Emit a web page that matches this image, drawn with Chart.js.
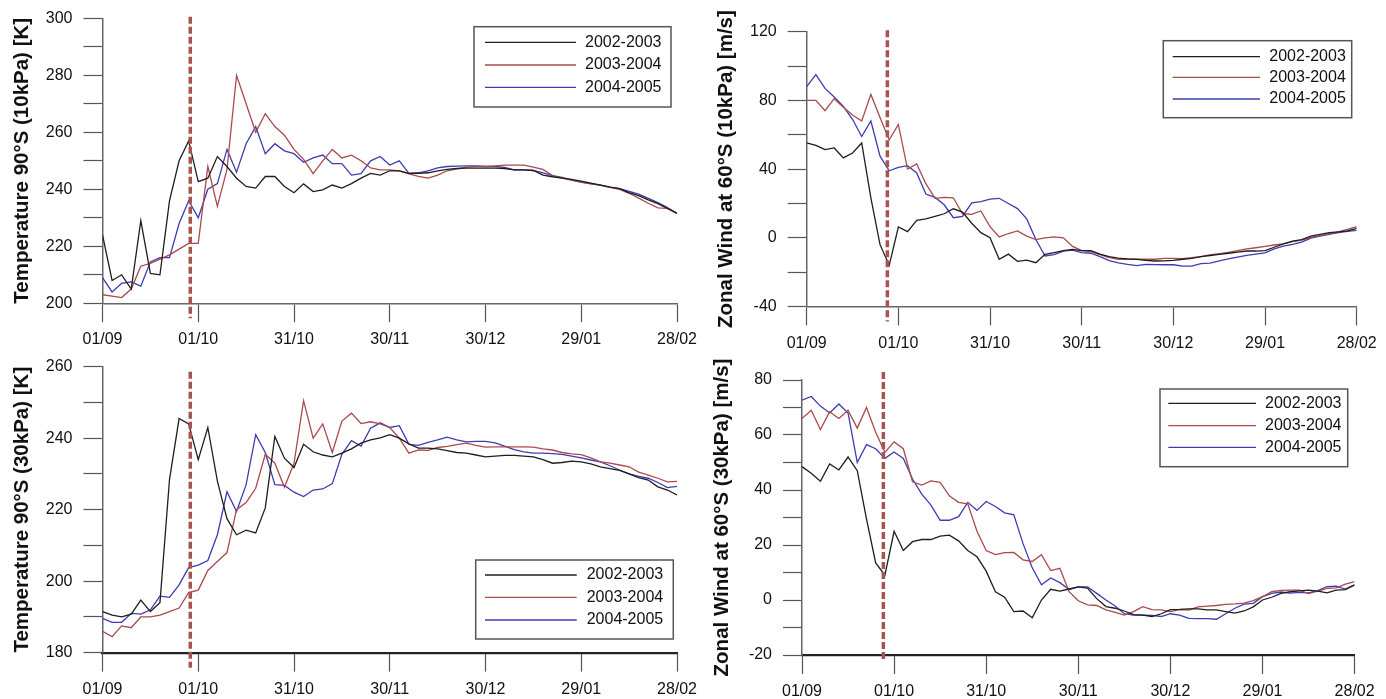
<!DOCTYPE html>
<html>
<head>
<meta charset="utf-8">
<title>Polar temperature and zonal wind 2002-2005</title>
<script src="https://cdn.jsdelivr.net/npm/chart.js@4.4.1/dist/chart.umd.min.js"></script>
<style>
    html, body { margin: 0; padding: 0; background: #fff; }
    #wrap { position: relative; width: 1386px; height: 699px; overflow: hidden; }
    canvas { position: absolute; }
</style>
</head>
<body>
<div id="wrap">
    <canvas id="tl" width="720" height="350" style="left:0;top:0"></canvas>
    <canvas id="tr" width="693" height="350" style="left:693px;top:0"></canvas>
    <canvas id="bl" width="720" height="349" style="left:0;top:350px"></canvas>
    <canvas id="br" width="693" height="349" style="left:693px;top:350px"></canvas>
</div>
<script>
// day offsets from 01/09
const days = [0,3,6,9,12,15,18,21,24,27,30,33,36,39,42,45,48,51,54,57,60,63,66,69,72,75,78,81,84,87,90,
    93,96,99,102,105,108,111,114,117,120,123,126,129,132,135,138,141,144,147,150,153,156,159,162,165,168,171,174,177,180];
const tickLabels = ['01/09','01/10','31/10','30/11','30/12','29/01','28/02'];
const seriesNames = ['2002-2003','2003-2004','2004-2005'];

// Temperature 90S, 10 kPa
const temp10_0203 = [224,208,210,205,229,210.5,210,236,250,257,242.7,243.9,251.5,248,243.9,241,240.4,244.5,244.5,241,238.8,241.9,239.2,239.8,241.5,240.4,242,243.9,245.6,245,246.5,
    246.5,245.6,245.6,245.8,246.5,247,247.3,247.4,247.4,247.4,247.4,247.3,246.8,246.8,246.6,245,244.4,243.9,243.5,242.9,242.2,241.5,240.8,240.2,238.8,237.8,236.3,235,233.3,231.5];
const temp10_0304 = [203,202.5,202,205,213,214,215.5,217,219,221,221,248,234,247,280,270,260,266.5,262,259,254,250.5,245.5,250,254,251,252,250,247.5,246.8,246.8,
    246.5,245.4,244.5,243.9,245,246.5,247.2,247.8,248,248,248.2,248.5,248.5,248.5,247.8,247,244.8,243.9,243.2,242.4,242,241.5,240.7,240,238.6,236.9,235.1,233.5,233.3,231.6];
const temp10_0405 = [209,204,207,207.5,206,214.5,216,216,228,236,230,240,242,254,246,256,262,252.5,256,253.5,252.5,249.5,251,252,249,249,245,245.5,250,251.5,248.5,
    250,245.6,245.8,246.5,247.5,248,248.1,248.2,248.2,248,248,247.7,246.8,246.8,246.6,245.8,244.8,244.2,243.2,242.5,241.9,241.5,240.8,240.2,239.3,238.3,236.8,235.3,233.6,231.6];

// Zonal wind 60S, 10 kPa
const wind10_0203 = [55.2,53.8,51.3,52.3,46.5,49.4,55.2,23.3,-4,-16,6.3,3.6,10.2,11,12.5,14,16.9,15,8.5,3,0,-12.5,-9.5,-13.7,-13,-14.5,-9.6,-8.6,-7.5,-6.8,-7.5,
    -7.5,-9.5,-11,-11.8,-12.3,-12.6,-13.2,-13.5,-13.4,-13.2,-12.5,-12,-11,-10.3,-9.6,-9,-8.3,-7.7,-7.7,-7.5,-5.5,-3.5,-2,-1,1,2,3,3.5,4,5.5];
const wind10_0304 = [80,80,74,81,76,71.5,68,83.5,70,57,66,40,43,31.5,23,23.5,23.3,14,13.6,15.6,6.5,0.5,2.5,4,1,-1,0,0.5,0,-5,-7.5,
    -8,-9.8,-11.5,-12.5,-12.5,-12.5,-12.5,-12.5,-12,-12,-12.2,-11.5,-11,-10,-9.2,-8.5,-7.5,-6.5,-5.8,-5,-4.2,-3.5,-2.2,-1.3,0.3,1.3,2.4,3.5,4.9,6.5];
const wind10_0405 = [88,95,87,82,76.5,69,59,68,47.5,39,41,42,37.8,25.5,23.5,19.2,11.7,12.5,20.4,21,22.5,23,20,17,11,-1,-10.6,-9.8,-7.7,-7.2,-8.6,
    -9,-11,-13.3,-14.6,-15.5,-16.2,-15.5,-15.6,-15.7,-15.7,-16.5,-16.5,-15,-14.7,-13.5,-12.3,-11.2,-10.2,-9.5,-8.8,-6.5,-4.8,-3.8,-2.5,-0.2,1,2,3,3.8,4.3];

// Temperature 90S, 30 kPa
const temp30_0203 = [191.5,190.5,190,190.8,194.7,191.5,194,228.5,245.5,244,234,243,228,217.5,213,214.3,213.5,220.5,240.5,234.4,231.8,238.3,236.2,235.3,234.8,235.8,237,238.6,239.5,240.1,241,
    240,238.4,237.2,237.2,237,236.5,236,235.8,235.3,234.8,235,235.2,235.2,235,234.8,234,233,233.2,233.6,233.4,232.8,232,231.5,231,230,229,228.3,226.4,225.5,224.1];
const temp30_0304 = [186,184.5,187.5,187,190,190,190.5,191.5,192.5,196.8,197.5,203,205.5,208,220,222,226,235.5,233,226.3,233,250.5,240,244,236,244.8,247,244.1,244.6,244,243,
    240,235.8,236.7,236.6,237.4,237.7,238.2,238.6,238,237.5,237.6,237.6,237.6,237.6,237.5,237,236.7,236,235.6,235.4,234.5,233.4,233,232.5,232,230.5,229.7,228.8,227.8,227.9];
const temp30_0405 = [189.6,188.5,188.5,191,190.8,192,195.8,195.5,199,203.8,204.5,205.8,213,225,219.5,227,241,236,227,226.8,224.9,223.7,225.5,225.8,227.3,235.5,239.3,237.8,242.8,244.3,243,
    243.5,238.3,238,238.8,239.5,240.3,239.5,239,239.1,239.1,238.7,237.8,236.8,236.2,235.8,235.8,235.7,235.5,235,234.5,233.9,233.4,232.3,231.1,230,229.3,228.8,227.6,226.2,226.5];

// Zonal wind 60S, 30 kPa
const wind30_0203 = [48.5,46.1,43.2,49.5,47.3,52,47,29.5,13.5,9,25,18,21.2,22,22,23.2,23.6,21.5,18,15.7,10.5,3,1,-4.2,-4,-6.5,0,3.9,3.2,4,4.8,
    4.3,0.5,-2.4,-3,-4,-5.3,-5.5,-6,-5,-3.5,-3.4,-3.2,-3.2,-3.6,-3.6,-4.2,-4.8,-4,-2.5,0,1,2.4,3,3.3,3.6,3.2,2.6,3.6,3.8,5.5];
const wind30_0304 = [66,69,62,68.5,66,69,62.5,70,61,53.7,57.5,55,43,41.8,43.3,42.8,37.9,35.5,35,25,18,16.5,17.2,17.3,14.6,14,16.5,10.7,11.5,3,-0.3,
    -1.8,-2,-3.6,-4.5,-5.5,-4.2,-2.4,-3.5,-3.6,-4.2,-3.5,-3.7,-2.5,-2.2,-2,-1.6,-1.4,-1.1,-0.2,1.2,3,3.5,3.6,3.6,2.3,3.2,4.2,4.4,5.8,6.7];
const wind30_0405 = [72.7,74,70.5,68,71.3,68,50,56.5,55,51.5,53.8,51.5,44,38.5,34.5,29,29,30.3,35.5,32.6,35.8,34,31.7,31,20.5,11.7,5.5,8,6.3,3.8,4.8,
    4.8,2.4,0,-2.2,-5,-5.5,-5.5,-5.6,-6,-5,-5.5,-6.7,-6.8,-6.8,-7,-5,-3,-1.5,-1.2,1.2,2.4,2.9,2.5,2.8,2.6,3.4,4.9,5,4,5.5];

Chart.defaults.font.family = "'Liberation Sans', Arial, sans-serif";
Chart.defaults.font.size = 16;
Chart.defaults.color = '#111';

const lineColors = ['#1e1e1e', '#aa4a4a', '#3c3cb4'];

// panel layout (canvas pixels); left canvases are a bit wider so the last x label is not cut
const panels = [
    { id: 'tl', title: 'Temperature 90°S (10kPa) [K]', series: [temp10_0203, temp10_0304, temp10_0405],
      yMin: 200, yMax: 300, yStep: 10, yLabelEvery: 20,
      area: { left: 102.5, top: 18.3, right: 677, bottom: 303.3 }, titleX: 22.5,
      eventDay: 27.5, dashTop: -1.5, dashBottom: 15, darkBase: false,
      legend: { x: 474, y: 26.7, w: 197, h: 80.3, x0: 485, x1: 576, tx: 585, rows: [42.3, 65, 87.3] } },
    { id: 'tr', title: 'Zonal Wind at 60°S (10kPa) [m/s]', series: [wind10_0203, wind10_0304, wind10_0405],
      yMin: -40, yMax: 120, yStep: 20, yLabelEvery: 40,
      area: { left: 113.7, top: 31.7, right: 663.7, bottom: 306.5 }, titleX: 33.7,
      eventDay: 26.4, dashTop: -1.5, dashBottom: 15, darkBase: false,
      legend: { x: 470.3, y: 40.7, w: 188.4, h: 77, x0: 479.7, x1: 567, tx: 576.3, rows: [56.7, 77.3, 99] } },
    { id: 'bl', title: 'Temperature 90°S (30kPa) [K]', series: [temp30_0203, temp30_0304, temp30_0405],
      yMin: 180, yMax: 260, yStep: 10, yLabelEvery: 20,
      area: { left: 102.5, top: 16.7, right: 677, bottom: 302.7 }, titleX: 22.5,
      eventDay: 27.5, dashTop: 5, dashBottom: 15, darkBase: true,
      legend: { x: 475.7, y: 210, w: 197.6, h: 79, x0: 485, x1: 576.7, tx: 586.7, rows: [225, 247.3, 270] } },
    { id: 'br', title: 'Zonal Wind at 60°S (30kPa) [m/s]', series: [wind30_0203, wind30_0304, wind30_0405],
      yMin: -20, yMax: 80, yStep: 10, yLabelEvery: 20,
      area: { left: 109, top: 30, right: 661.6, bottom: 305 }, titleX: 29,
      eventDay: 26.5, dashTop: -8, dashBottom: 6, darkBase: true,
      legend: { x: 467, y: 39, w: 187.7, h: 77.7, x0: 475.3, x1: 563, tx: 572, rows: [53.3, 75.7, 97.3] } }
];

// dashed event marker, rotated axis title and the boxed legend inside the plot
const panelDecor = {
    id: 'panelDecor',
    afterDatasetsDraw(chart, args, o) {
        const { ctx, chartArea } = chart;
        const x = chart.scales.x.getPixelForValue(o.eventDay);
        ctx.save();
        ctx.strokeStyle = '#a6544e';
        ctx.lineWidth = 3.5;
        ctx.setLineDash([7, 3]);
        ctx.beginPath();
        ctx.moveTo(x, chartArea.top + o.dashTop);
        ctx.lineTo(x, chartArea.bottom + o.dashBottom);
        ctx.stroke();
        ctx.restore();
    },
    afterDraw(chart, args, o) {
        const { ctx, chartArea } = chart;
        ctx.save();
        ctx.translate(o.titleX, (chartArea.top + chartArea.bottom) / 2);
        ctx.rotate(-Math.PI / 2);
        ctx.font = "bold 20.5px 'Liberation Sans', Arial, sans-serif";
        ctx.fillStyle = '#111';
        ctx.textAlign = 'center';
        ctx.textBaseline = 'middle';
        ctx.fillText(o.title, 0, 0);
        ctx.restore();

        const lg = o.legend;
        ctx.save();
        ctx.fillStyle = '#fff';
        ctx.fillRect(lg.x, lg.y, lg.w, lg.h);
        ctx.strokeStyle = '#555';
        ctx.lineWidth = 1.5;
        ctx.strokeRect(lg.x, lg.y, lg.w, lg.h);
        ctx.font = "16px 'Liberation Sans', Arial, sans-serif";
        ctx.textBaseline = 'middle';
        chart.data.datasets.forEach((ds, i) => {
            const y = lg.rows[i];
            ctx.strokeStyle = ds.borderColor;
            ctx.lineWidth = 1.3;
            ctx.beginPath();
            ctx.moveTo(lg.x0, y);
            ctx.lineTo(lg.x1, y);
            ctx.stroke();
            ctx.fillStyle = '#111';
            ctx.fillText(ds.label, lg.tx, y);
        });
        ctx.restore();
    }
};

function buildPanel(p) {
    const cv = document.getElementById(p.id);
    const W = cv.width, H = cv.height;
    new Chart(cv, {
        type: 'line',
        data: {
            datasets: p.series.map((vals, i) => ({
                label: seriesNames[i],
                data: vals.map((v, k) => ({ x: days[k], y: v })),
                borderColor: lineColors[i],
                borderWidth: 1.3,
                pointRadius: 0,
                tension: 0,
                fill: false
            }))
        },
        options: {
            responsive: false,
            animation: false,
            devicePixelRatio: 1,
            layout: { padding: { left: 0, top: p.area.top, right: W - p.area.right, bottom: 0 } },
            plugins: {
                legend: { display: false },
                tooltip: { enabled: false },
                panelDecor: { title: p.title, titleX: p.titleX, eventDay: p.eventDay,
                              dashTop: p.dashTop, dashBottom: p.dashBottom, legend: p.legend }
            },
            scales: {
                x: {
                    type: 'linear', min: 0, max: 180,
                    ticks: { stepSize: 30, autoSkip: false, maxRotation: 0, padding: 8,
                             callback: v => tickLabels[v / 30] ?? '' },
                    grid: { drawOnChartArea: false, drawTicks: true, tickLength: 19, tickColor: '#555', tickWidth: 1.2 },
                    border: { color: p.darkBase ? '#222' : '#666', width: p.darkBase ? 2.2 : 1.5 },
                    afterFit: s => { s.height = H - p.area.bottom; s.paddingLeft = 0; s.paddingRight = 0; }
                },
                y: {
                    min: p.yMin, max: p.yMax,
                    ticks: { stepSize: p.yStep, padding: 11,
                             callback: v => ((v - p.yMin) % p.yLabelEvery === 0 ? v : '') },
                    grid: { drawOnChartArea: false, drawTicks: true, tickLength: 19, tickColor: '#555', tickWidth: 1.2 },
                    border: { color: '#666', width: 1.5 },
                    afterFit: s => { s.width = p.area.left; s.paddingTop = 0; s.paddingBottom = 0; }
                }
            }
        },
        plugins: [panelDecor]
    });
}

panels.forEach(buildPanel);
</script>
</body>
</html>
